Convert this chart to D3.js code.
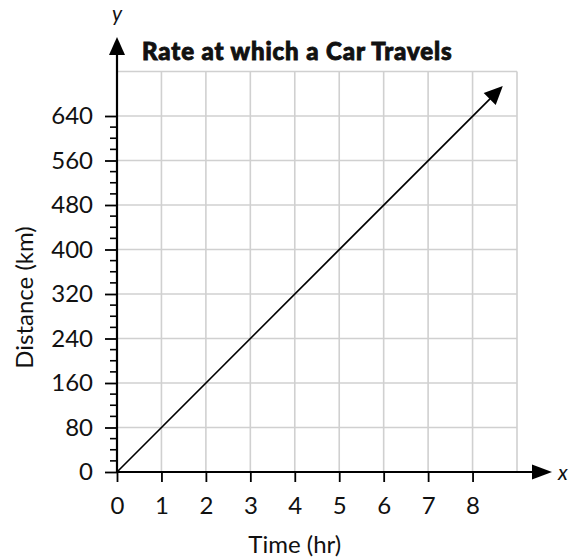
<!DOCTYPE html>
<html><head><meta charset="utf-8">
<script src="https://cdn.jsdelivr.net/npm/d3@7"></script>
<style>body{margin:0;background:#fff}svg{display:block}text{font-family:Lato,"Open Sans",sans-serif;fill:#111}</style>
</head><body>
<script>
const title = "Rate at which a Car Travels";
const xLabel = "Time (hr)";
const yLabel = "Distance (km)";
const xTicks = [0,1,2,3,4,5,6,7,8];
const yTicks = [0,80,160,240,320,400,480,560,640];
const xGrid = [1,2,3,4,5,6,7,8,9];
const yGrid = [80,160,240,320,400,480,560,640,720];
const lineX = [0, 8.68];
const lineY = [0, 694];

const W=572,H=559;
const svg=d3.select("body").append("svg").attr("width",W).attr("height",H);
const x=d3.scaleLinear().domain([0,9]).range([117,517]);
const y=d3.scaleLinear().domain([0,720]).range([472,71.5]);

// grid
const g=svg.append("g").attr("stroke","#d0d0d0").attr("stroke-width",1.6);
g.selectAll(".v").data(xGrid).join("line").attr("x1",d=>x(d)).attr("x2",d=>x(d)).attr("y1",y(0)).attr("y2",y(720));
g.selectAll(".h").data(yGrid).join("line").attr("y1",d=>y(d)).attr("y2",d=>y(d)).attr("x1",x(0)).attr("x2",x(9));

// y axis minor ticks
const minor=d3.range(0,641,20).filter(v=>v%80!==0);
svg.append("g").selectAll("line").data(minor).join("line")
 .attr("x1",110).attr("x2",x(0)).attr("y1",d=>y(d)).attr("y2",d=>y(d)).attr("stroke","#000").attr("stroke-width",1.6);
// y axis major
const ya=svg.append("g").attr("transform",`translate(${x(0)},0)`)
 .call(d3.axisLeft(y).tickValues(yTicks).tickSize(12).tickPadding(12).tickFormat(d3.format("d")));
ya.select(".domain").remove();
ya.selectAll(".tick line").attr("stroke","#000").attr("stroke-width",1.8);
ya.selectAll(".tick text").style("font-size","24px").style("font-family","Lato").style("fill","#111");

const xa=svg.append("g").attr("transform",`translate(0,${y(0)})`)
 .call(d3.axisBottom(x).tickValues(xTicks).tickSize(10).tickPadding(15).tickFormat(d3.format("d")));
xa.select(".domain").remove();
xa.selectAll(".tick line").attr("stroke","#000").attr("stroke-width",1.8);
xa.selectAll(".tick text").style("font-size","24px").style("font-family","Lato").style("fill","#111");

function tri(cx,cy,ang,L,Wd){
 const p=[[0,0],[-L,-Wd],[-L,Wd]].map(([a,b])=>[cx+a*Math.cos(ang)-b*Math.sin(ang),cy+a*Math.sin(ang)+b*Math.cos(ang)]);
 svg.append("path").attr("d","M"+p.join("L")+"Z").attr("fill","#000");
}
svg.append("line").attr("x1",x(0)-1).attr("x2",536).attr("y1",y(0)).attr("y2",y(0)).attr("stroke","#000").attr("stroke-width",2.2);
tri(552,y(0),0,20,7.5);
svg.append("line").attr("x1",x(0)).attr("x2",x(0)).attr("y1",y(0)+1).attr("y2",53).attr("stroke","#000").attr("stroke-width",2.2);
tri(x(0),37,-Math.PI/2,18,8);
svg.append("text").attr("x",558).attr("y",480).style("font-size","21px").attr("font-style","italic").text("x");
svg.append("text").attr("x",x(0)).attr("y",21).attr("text-anchor","middle").style("font-size","21px").attr("font-style","italic").text("y");

// data line
const pts=lineX.map((v,i)=>[x(v),y(lineY[i])]);
const ang=Math.atan2(pts[1][1]-pts[0][1],pts[1][0]-pts[0][0]);
const endPt=[pts[1][0]-10*Math.cos(ang),pts[1][1]-10*Math.sin(ang)];
svg.append("path").attr("d",d3.line()([pts[0],endPt])).attr("stroke","#000").attr("stroke-width",1.7).attr("fill","none");
tri(pts[1][0],pts[1][1],ang,18.5,8.5);

svg.append("text").attr("x",142).attr("y",60).style("font-size","24px").style("font-weight","900")
 .style("letter-spacing","0.9px").style("stroke","#111").style("stroke-width","0.9px").text(title);
svg.append("text").attr("x",x(4.0)).attr("y",553).attr("text-anchor","middle").style("font-size","24px").text(xLabel);
svg.append("text").attr("transform",`translate(33,${297.5}) rotate(-90)`).attr("text-anchor","middle").style("font-size","24px").text(yLabel);
</script>
</body></html>
